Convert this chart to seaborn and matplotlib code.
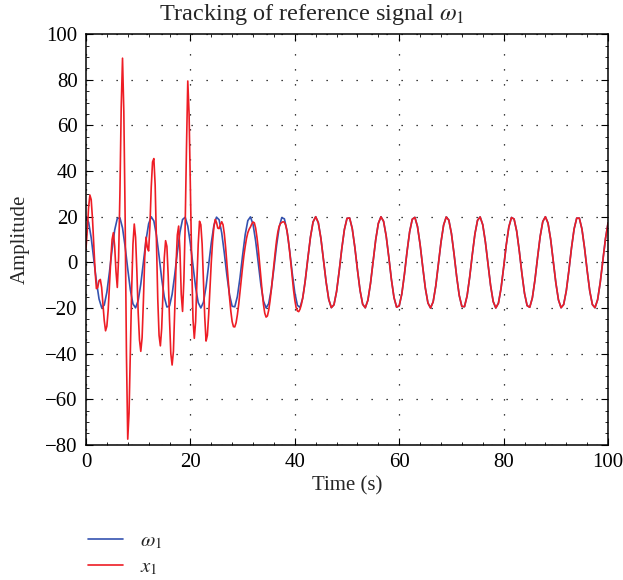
import numpy as np
import pandas as pd
import seaborn as sns
import matplotlib
matplotlib.use("Agg")
import matplotlib.pyplot as plt
from matplotlib.ticker import MultipleLocator

# reference signal omega_1, every 0.5 s (0 .. 100 s)
time_ref = np.arange(0, 100.01, 0.5)
omega1 = [
    20.0, 17.55, 10.81, 1.41, -8.32, -16.02, -19.80, -18.73, -13.07, -4.22, 5.67, 14.17, 19.20,
    19.53, 15.08, 6.93, -2.91, -12.04, -18.22, -19.94, -16.78, -9.51, 0.09, 9.67, 16.88, 19.96,
    18.15, 11.90, 2.73, -7.10, -15.19, -19.57, -19.15, -14.05, -5.50, 4.39, 13.21, 18.79,
    19.77, 15.92, 8.16, -1.59, -10.95, -17.64, -20.00, -17.47, -10.66, -1.24, 8.48, 16.13, 19.82,
    18.67, 12.94, 4.04, -5.84, -14.30, -19.25, -19.49, -14.96, -6.77, 3.09, 12.18, 18.30,
    19.93, 16.68, 9.35, -0.27, -9.82, -16.97, -19.97, -18.07, -11.76, -2.56, 7.26, 15.31, 19.60,
    19.10, 13.92, 5.33, -4.56, -13.34, -18.85, -19.75, -15.81, -8.00, 1.77, 11.10, 17.72,
    20.00, 17.38, 10.51, 1.06, -8.64, -16.23, -19.85, -18.60, -12.80, -3.87, 6.01, 14.42, 19.30,
    19.45, 14.84, 6.60, -3.26, -12.32, -18.37, -19.91, -16.59, -9.20, 0.44, 9.97, 17.06, 19.98,
    18.00, 11.61, 2.38, -7.43, -15.42, -19.64, -19.05, -13.79, -5.16, 4.73, 13.47, 18.91,
    19.72, 15.70, 7.84, -1.94, -11.25, -17.80, -19.99, -17.29, -10.36, -0.88, 8.80, 16.34, 19.87,
    18.54, 12.67, 3.70, -6.18, -14.54, -19.35, -19.41, -14.72, -6.43, 3.43, 12.46, 18.43,
    19.90, 16.49, 9.04, -0.62, -10.13, -17.16, -19.98, -17.92, -11.47, -2.21, 7.59, 15.53, 19.67,
    18.99, 13.67, 4.99, -4.91, -13.60, -18.97, -19.69, -15.59, -7.67, 2.12, 11.39, 17.88,
    19.99, 17.20, 10.20, 0.71, -8.96, -16.44, -19.89, -18.47, -12.53, -3.52, 6.35, 14.66, 19.39,
    19.37, 14.60, 6.26, -3.61, -12.60, -18.50, -19.88, -16.39, -8.88, 0.80, 10.28, 17.25,
]

# x_1 during the transient, read every 0.25 s (0 .. 42 s)
time_transient = np.arange(0, 42.01, 0.25)
x1_transient = [
    6, 14, 24, 29.5, 27.5, 19, 7, -4,                  # 0 - 1.75
    -11.5, -11, -8, -7.5, -11, -18, -25.5, -30,        # 2 - 3.75
    -28, -21, -10, 1, 10, 13, 7, -4,                   # 4 - 5.75
    -11, 2, 30, 68, 89.5, 66, 20, -40,                 # 6 - 7.75
    -77.5, -66, -40, -12, 8, 16.8, 11, -4,             # 8 - 9.75
    -22, -34, -39, -33, -17, 2, 11, 6.5,               # 10 - 11.75
    5, 16, 33, 44, 45.5, 34, 10, -16,                  # 12 - 13.75
    -32, -36.6, -29, -13, 2, 9.5, 7, -6,               # 14 - 15.75
    -25, -40, -45, -39, -21, -1, 12, 15.9,             # 16 - 17.75
    5, -14, -21.5, -8, 16, 50, 79.5, 65,               # 18 - 19.75
    32, 0, -25, -33.3, -26, -8, 8, 18,                 # 20 - 21.75
    16.5, 8, -8, -24, -34.5, -32, -23, -11,            # 22 - 23.75
    0, 9, 15.5, 18.8, 17.5, 15, 14.8, 16.5,            # 24 - 25.75
    17.8, 16.5, 12.5, 6.5, -0.5, -8, -15.5, -21.5,     # 26 - 27.75
    -26, -28.2, -28.3, -26.5, -23, -18.5, -13, -7.5,   # 28 - 29.75
    -2, 3, 7, 10.5, 13, 14.5, 15.5, 16.8,              # 30 - 31.75
    17.7, 17.3, 15, 11, 6, 0, -6.5, -13,               # 32 - 33.75
    -18.5, -22.3, -24, -23.5, -21, -17, -12, -6.5,     # 34 - 35.75
    -1, 4.5, 9.5, 13.3, 15.8, 17, 17.5, 17.8,          # 36 - 37.75
    17.6, 16.3, 13.8, 10, 5, -0.5, -6.5, -12,          # 38 - 39.75
    -16.5, -19.8, -21.3, -21.6, -20.5, -18.5, -15.8, -12.2,  # 40 - 41.75
    -8,                                                # 42
]

# from 42.5 s on x_1 lies on top of omega_1
tail_start = 85

assert len(omega1) == len(time_ref)
assert len(x1_transient) == len(time_transient)

label_w = r"$\omega_1$"
label_x = r"$x_1$"
colors = {label_w: "#3553b0", label_x: "#ee1d25"}

df_w = pd.DataFrame({"time": time_ref, "value": omega1, "signal": label_w})
df_x = pd.DataFrame({
    "time": np.concatenate([time_transient, time_ref[tail_start:]]),
    "value": np.concatenate([x1_transient, omega1[tail_start:]]),
    "signal": label_x,
})
df = pd.concat([df_w, df_x], ignore_index=True)

sns.set_theme(style="ticks")
plt.rcParams["font.family"] = ["Liberation Serif", "DejaVu Serif"]
plt.rcParams["mathtext.fontset"] = "stix"
plt.rcParams["axes.unicode_minus"] = True

fig = plt.figure(figsize=(6.23, 5.8), dpi=100)
ax = fig.add_axes([0.138, 0.233, 0.838, 0.708])

sns.lineplot(data=df, x="time", y="value", hue="signal", hue_order=[label_w, label_x],
             palette=colors, estimator=None, sort=False, linewidth=1.2, ax=ax, legend=False)

ax.set_xlim(0, 100)
ax.set_ylim(-80, 100)
ax.xaxis.set_major_locator(MultipleLocator(20))
ax.yaxis.set_major_locator(MultipleLocator(20))
ax.xaxis.set_minor_locator(MultipleLocator(4))
ax.yaxis.set_minor_locator(MultipleLocator(5))
ax.grid(True, which="major", color="black", linestyle=(0, (1, 11)), linewidth=0.9)
ax.tick_params(which="both", direction="in", top=True, right=True, colors="black",
               labelsize=15, pad=6)
ax.tick_params(which="major", length=5, width=0.8)
ax.tick_params(which="minor", length=2.5, width=0.6)
for sp in ax.spines.values():
    sp.set_color("black")
    sp.set_linewidth(1.1)

ax.set_xlabel("Time (s)", fontsize=15, labelpad=3)
ax.set_ylabel("Amplitude", fontsize=15, labelpad=11)
# the title is centred on the whole figure, not on the axes
fig.text(0.5, 1 - 20 / 580, r"Tracking of reference signal $\omega_1$",
         ha="center", va="baseline", fontsize=17.5)

handles = ax.get_lines()[:2]
fig.legend(handles, [label_w, label_x], loc="upper left",
           bbox_to_anchor=(0.141, 0.083), bbox_transform=fig.transFigure,
           frameon=False, fontsize=15, borderpad=0, borderaxespad=0,
           handlelength=1.7, handletextpad=0.8, labelspacing=0.3)

fig.savefig("out.png", dpi=100)
